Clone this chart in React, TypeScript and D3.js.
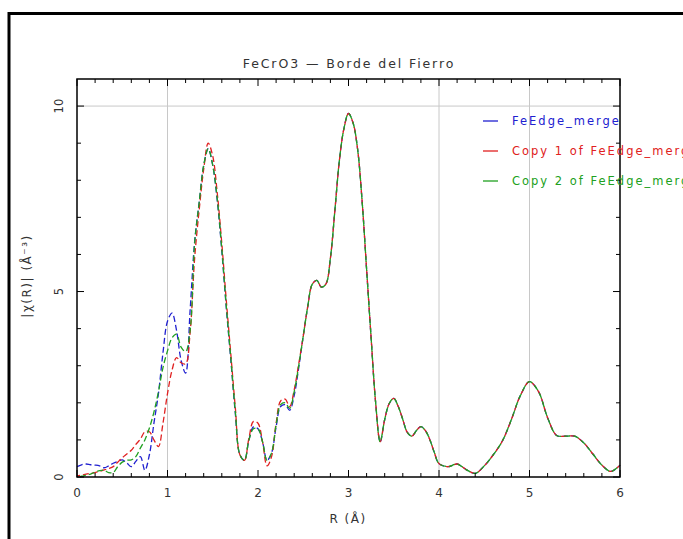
import React from "react";
import * as d3 from "d3";

const TITLE = "FeCrO3 — Borde del Fierro";
const X_LABEL = "R (Å)";
const Y_LABEL = "|χ(R)| (Å⁻³)";
const X_TICKS = [0, 1, 2, 3, 4, 5, 6];
const Y_TICKS = [0, 5, 10];
const X_GRID = [1, 4, 5];
const Y_GRID = [10];

const SERIES_NAMES = ["FeEdge_merge", "Copy 1 of FeEdge_merge", "Copy 2 of FeEdge_merge"];
const SERIES_COLORS = ["#2020d0", "#e02020", "#20a020"];

// R grid for the part where the three curves differ
const R_HEAD = [
  0, 0.05, 0.1, 0.15, 0.2, 0.25, 0.3, 0.35, 0.4, 0.45, 0.5, 0.55, 0.6, 0.65, 0.7, 0.75, 0.8, 0.85, 0.9, 0.95,
  1.0, 1.05, 1.1, 1.15, 1.2, 1.25, 1.3, 1.35, 1.4, 1.45, 1.5, 1.55, 1.6, 1.65, 1.7, 1.75, 1.8, 1.85, 1.9, 1.95,
  2.0, 2.05, 2.1, 2.15, 2.2, 2.25, 2.3, 2.35, 2.4, 2.45,
];
const BLUE_HEAD = [
  0.28, 0.33, 0.35, 0.33, 0.32, 0.3, 0.25, 0.3, 0.37, 0.42, 0.46, 0.38, 0.28, 0.42, 0.55, 0.18, 0.6, 1.45, 2.25, 3.35,
  4.2, 4.42, 3.95, 3.15, 2.8, 4.5, 6.35, 7.4, 8.4, 8.85, 8.4, 7.45, 6.1, 4.55, 3.15, 1.7, 0.6, 0.45, 1.0, 1.35,
  1.3, 0.95, 0.45, 0.65, 1.35, 1.9, 1.95, 1.8, 2.2, 2.95,
];
const RED_HEAD = [
  0.03, 0.05, 0.08, 0.1, 0.12, 0.15, 0.19, 0.23, 0.28, 0.4, 0.52, 0.62, 0.72, 0.88, 1.02, 1.22, 1.22, 1.0, 0.82, 1.45,
  2.25, 2.88, 3.22, 3.08, 3.05, 3.9, 5.9, 7.2, 8.3, 9.0, 8.65, 7.65, 6.3, 4.75, 3.3, 1.85, 0.6, 0.45, 1.05, 1.5,
  1.45, 0.95, 0.3, 0.55, 1.45, 2.05, 2.1, 1.9, 2.35, 3.05,
];
const GREEN_HEAD = [
  0.0, 0.02, 0.05, 0.08, 0.13, 0.17, 0.18, 0.12, 0.12, 0.28, 0.4, 0.45, 0.46, 0.55, 0.78, 1.0, 1.32, 1.75, 2.3, 2.95,
  3.4, 3.75, 3.85, 3.5, 3.38, 3.95, 6.3, 7.4, 8.4, 8.85, 8.4, 7.5, 6.15, 4.6, 3.2, 1.75, 0.6, 0.45, 1.0, 1.3,
  1.3, 0.95, 0.45, 0.65, 1.4, 1.95, 2.0, 1.85, 2.3, 3.0,
];

// Shared part (the three curves coincide)
const R_TAIL = [
  2.5, 2.55, 2.6, 2.65, 2.7, 2.75, 2.8, 2.85, 2.9, 2.95, 3.0, 3.05, 3.1, 3.15, 3.2, 3.25, 3.3, 3.35, 3.4, 3.45,
  3.5, 3.55, 3.6, 3.65, 3.7, 3.75, 3.8, 3.85, 3.9, 3.95, 4.0,
  4.1, 4.2, 4.3, 4.4, 4.5, 4.6, 4.7, 4.8, 4.9, 5.0, 5.1, 5.2, 5.3, 5.4, 5.5, 5.6, 5.7, 5.8, 5.9, 6.0,
];
const TAIL_VALUES = [
  3.8, 4.6, 5.2, 5.3, 5.12, 5.2, 5.9, 7.2, 8.55, 9.4, 9.8, 9.55, 8.85, 7.45, 5.6, 3.75, 2.0, 0.95, 1.55, 1.98,
  2.12, 1.9, 1.55, 1.2, 1.1, 1.25, 1.36, 1.25, 1.0, 0.65, 0.36,
  0.28, 0.35, 0.2, 0.1, 0.3, 0.6, 0.97, 1.55, 2.2, 2.57, 2.3, 1.6, 1.12, 1.1, 1.1, 0.92, 0.62, 0.32, 0.15, 0.32,
];

const HEADS = [BLUE_HEAD, RED_HEAD, GREEN_HEAD];
const DASH_OFFSETS = [0, 3, 6];

const W = 683;
const H = 539;
const PLOT = { left: 77, right: 620, top: 79, bottom: 477 };
const FONT = "'DejaVu Sans', sans-serif";

export default function App() {
  const x = d3.scaleLinear().domain([0, 6]).range([PLOT.left, PLOT.right]);
  const y = d3.scaleLinear().domain([0, 10.73]).range([PLOT.bottom, PLOT.top]);

  const line = d3
    .line<[number, number]>()
    .x((d) => x(d[0]))
    .y((d) => y(d[1]))
    .curve(d3.curveCatmullRom.alpha(0.5));

  const series = HEADS.map((head) => {
    const pts: [number, number][] = [];
    R_HEAD.forEach((r, i) => pts.push([r, head[i]]));
    R_TAIL.forEach((r, i) => pts.push([r, TAIL_VALUES[i]]));
    return pts;
  });

  const xMinor = d3.range(0, 6.0001, 0.2);
  const yMinor = d3.range(0, 10.0001, 1);

  return (
    <svg
      width={W}
      height={H}
      style={{ position: "absolute", left: 0, top: 0, background: "#fff" }}
      fontFamily={FONT}
    >
      <rect x={0} y={0} width={W} height={H} fill="#fff" />
      {/* outer frame */}
      <line x1={9} y1={13.5} x2={W} y2={13.5} stroke="#000" strokeWidth={3} />
      <line x1={9} y1={12} x2={9} y2={H} stroke="#000" strokeWidth={3} />

      {/* grid */}
      {X_GRID.map((g) => (
        <line key={"gx" + g} x1={x(g)} x2={x(g)} y1={PLOT.top} y2={PLOT.bottom} stroke="#c8c8c8" strokeWidth={1} />
      ))}
      {Y_GRID.map((g) => (
        <line key={"gy" + g} x1={PLOT.left} x2={PLOT.right} y1={y(g)} y2={y(g)} stroke="#c8c8c8" strokeWidth={1} />
      ))}

      {/* title */}
      <text x={349} y={68} textAnchor="middle" fontSize={12.5} letterSpacing={1.9} fill="#333">
        {TITLE}
      </text>

      {/* curves */}
      {series.map((pts, i) => (
        <path
          key={"s" + i}
          d={line(pts) || ""}
          fill="none"
          stroke={SERIES_COLORS[i]}
          strokeWidth={1.3}
          strokeDasharray="6 3"
          strokeDashoffset={DASH_OFFSETS[i]}
        />
      ))}

      {/* plot frame */}
      <rect
        x={PLOT.left}
        y={PLOT.top}
        width={PLOT.right - PLOT.left}
        height={PLOT.bottom - PLOT.top}
        fill="none"
        stroke="#000"
        strokeWidth={1.5}
      />

      {/* x ticks */}
      {xMinor.map((t, i) => {
        const major = Math.abs(t - Math.round(t)) < 1e-6;
        const len = major ? 7 : 4;
        return (
          <g key={"xt" + i}>
            <line x1={x(t)} x2={x(t)} y1={PLOT.bottom} y2={PLOT.bottom - len} stroke="#000" strokeWidth={1} />
            <line x1={x(t)} x2={x(t)} y1={PLOT.top} y2={PLOT.top + len} stroke="#000" strokeWidth={1} />
          </g>
        );
      })}
      {yMinor.map((t, i) => {
        const major = t % 5 === 0;
        const len = major ? 7 : 4;
        return (
          <g key={"yt" + i}>
            <line x1={PLOT.left} x2={PLOT.left + len} y1={y(t)} y2={y(t)} stroke="#000" strokeWidth={1} />
            <line x1={PLOT.right} x2={PLOT.right - len} y1={y(t)} y2={y(t)} stroke="#000" strokeWidth={1} />
          </g>
        );
      })}

      {/* tick labels */}
      {X_TICKS.map((t) => (
        <text key={"xl" + t} x={x(t)} y={497} textAnchor="middle" fontSize={12} fill="#333">
          {t}
        </text>
      ))}
      {Y_TICKS.map((t) => (
        <text
          key={"yl" + t}
          transform={`translate(63,${y(t)}) rotate(-90)`}
          textAnchor="middle"
          fontSize={11.5}
          fill="#333"
        >
          {t}
        </text>
      ))}

      {/* axis labels */}
      <text x={348} y={523} textAnchor="middle" fontSize={12} letterSpacing={1.5} fill="#333">
        {X_LABEL}
      </text>
      <text
        transform={`translate(31,276) rotate(-90)`}
        textAnchor="middle"
        fontSize={12}
        letterSpacing={1.5}
        fill="#333"
      >
        {Y_LABEL}
      </text>

      {/* legend */}
      {SERIES_NAMES.map((name, i) => (
        <g key={"lg" + i}>
          <line x1={483} x2={498} y1={121 + 30 * i} y2={121 + 30 * i} stroke={SERIES_COLORS[i]} strokeWidth={1.3} />
          <text x={512} y={125 + 30 * i} fontSize={11.5} letterSpacing={2} fill={SERIES_COLORS[i]}>
            {name}
          </text>
        </g>
      ))}
    </svg>
  );
}
